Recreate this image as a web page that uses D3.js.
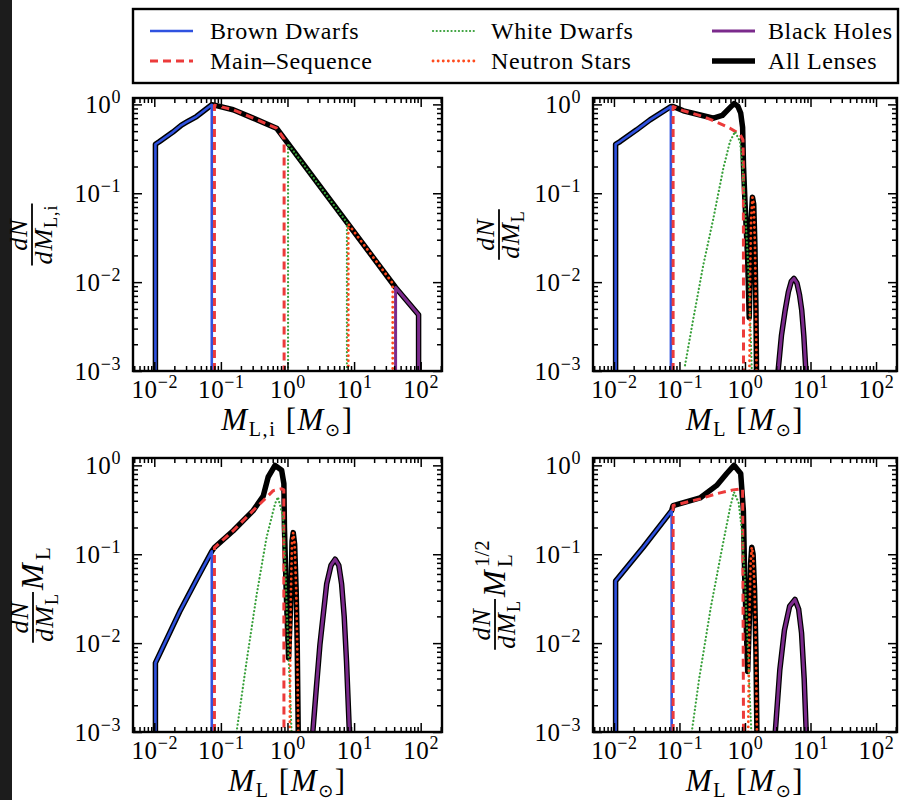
<!DOCTYPE html>
<html>
<head>
<meta charset="utf-8">
<script src="https://cdn.jsdelivr.net/npm/d3@7"></script>
<style>
  body { margin: 0; background: #fff; }
  svg text { font-family: "Liberation Serif", "DejaVu Serif", serif; fill: #000; }
</style>
</head>
<body>
<svg id="fig" width="901" height="800"></svg>
<script>
// ---- axis settings ----
const xDomain = [0.00479, 209];
const xMajor = [1e-2, 1e-1, 1e0, 1e1, 1e2];
const yMajor = [1e-3, 1e-2, 1e-1, 1e0];

// ---- panel 1: initial mass function dN/dM_L,i ----
const p1BrownDwarfs = [[0.0104,0.001],[0.0104,0.356],[0.012,0.382],[0.019,0.488],[0.0256,0.585],[0.0304,0.63],[0.043,0.73],[0.073,0.99],[0.073,0.001]];
const p1MainSequence = [[0.08,0.001],[0.08,0.98],[0.153,0.87],[0.305,0.70],[0.685,0.54],[0.89,0.41],[0.89,0.001]];
const p1WhiteDwarfs = [[1.02,0.001],[1.02,0.36],[7.8,0.047],[7.8,0.001]];
const p1NeutronStars = [[8.2,0.001],[8.2,0.045],[38,0.0097],[38,0.001]];
const p1BlackHoles = [[42,0.001],[42,0.0087],[93,0.0043],[93,0.001]];
const p1AllLenses = [[0.0104,0.001],[0.0104,0.356],[0.012,0.382],[0.019,0.488],[0.0256,0.585],[0.0304,0.63],[0.043,0.73],[0.073,0.99],[0.08,0.98],[0.153,0.87],[0.305,0.70],[0.685,0.54],[42,0.0087],[93,0.0043],[93,0.001]];

// ---- panel 2: present-day lens masses dN/dM_L ----
const p2BrownDwarfs = [[0.0106,0.001],[0.0106,0.356],[0.0124,0.382],[0.0222,0.517],[0.0355,0.67],[0.074,0.946],[0.074,0.001]];
const p2MainSequence = [[0.08,0.001],[0.08,0.946],[0.115,0.847],[0.231,0.73],[0.371,0.63],[0.59,0.54],[0.84,0.46],[0.93,0.40],[0.945,0.2],[0.95,0.001]];
const p2WhiteDwarfs = [[0.1216,0.00116],[0.163,0.0039],[0.231,0.0156],[0.329,0.052],[0.467,0.191],[0.59,0.382],[0.705,0.494],[0.84,0.382],[0.92,0.191],[0.99,0.0804],[1.125,0.0143],[1.2,0.004],[1.27,0.001]];
const p2NeutronStars = [[1.17,0.001],[1.2,0.012],[1.24,0.05],[1.3,0.09],[1.36,0.075],[1.42,0.025],[1.47,0.005],[1.5,0.001]];
const p2BlackHoles = [[3.2,0.001],[3.6,0.0025],[4.1,0.0048],[4.6,0.0078],[5.1,0.0102],[5.6,0.011],[6.2,0.0098],[6.8,0.0072],[7.35,0.0048],[7.9,0.0025],[8.5,0.001]];
const p2AllLenses = [[0.0106,0.001],[0.0106,0.356],[0.0124,0.382],[0.0222,0.517],[0.0355,0.67],[0.074,0.946],[0.08,0.946],[0.115,0.847],[0.231,0.745],[0.33,0.70],[0.45,0.75],[0.59,0.92],[0.68,1.02],[0.78,0.95],[0.86,0.80],[0.92,0.55],[0.95,0.2],[1.0,0.08],[1.1,0.018],[1.16,0.004],[1.2,0.012],[1.24,0.05],[1.3,0.09],[1.36,0.075],[1.42,0.025],[1.47,0.005],[1.5,0.001],[2,0],
  [3.2,0.001],[3.6,0.0025],[4.1,0.0048],[4.6,0.0078],[5.1,0.0102],[5.6,0.011],[6.2,0.0098],[6.8,0.0072],[7.35,0.0048],[7.9,0.0025],[8.5,0.001]];

// ---- panel 3: dN/dM_L x M_L ----
const p3BrownDwarfs = [[0.0104,0.001],[0.0104,0.006],[0.024,0.0225],[0.045,0.055],[0.073,0.108],[0.073,0.001]];
const p3MainSequence = [[0.08,0.001],[0.08,0.119],[0.153,0.184],[0.305,0.31],[0.432,0.40],[0.61,0.52],[0.817,0.546],[0.88,0.53],[0.885,0.001]];
const p3WhiteDwarfs = [[0.172,0.001],[0.243,0.0062],[0.344,0.035],[0.485,0.155],[0.65,0.37],[0.72,0.44],[0.86,0.26],[0.94,0.055],[1.02,0.0096],[1.1,0.0025],[1.15,0.001]];
const p3NeutronStars = [[1.08,0.001],[1.12,0.03],[1.17,0.14],[1.22,0.175],[1.28,0.13],[1.35,0.04],[1.4,0.0096],[1.45,0.001]];
const p3BlackHoles = [[2.4,0.001],[2.7,0.003],[3.07,0.0096],[3.87,0.046],[4.5,0.075],[5.2,0.088],[5.9,0.075],[6.5,0.046],[7.1,0.02],[7.7,0.0062],[8.5,0.001]];
const p3AllLenses = [[0.0104,0.001],[0.0104,0.006],[0.024,0.0225],[0.045,0.055],[0.073,0.108],[0.08,0.119],[0.153,0.184],[0.305,0.31],[0.432,0.45],[0.513,0.74],[0.65,1.0],[0.817,0.88],[0.883,0.62],[0.9,0.2],[0.96,0.035],[1.04,0.0068],[1.12,0.03],[1.17,0.14],[1.22,0.175],[1.28,0.13],[1.35,0.04],[1.4,0.0096],[1.45,0.001],[2,0],
  [2.4,0.001],[2.7,0.003],[3.07,0.0096],[3.87,0.046],[4.5,0.075],[5.2,0.088],[5.9,0.075],[6.5,0.046],[7.1,0.02],[7.7,0.0062],[8.5,0.001]];

// ---- panel 4: dN/dM_L x M_L^(1/2) ----
const p4BrownDwarfs = [[0.0106,0.001],[0.0106,0.05],[0.028,0.12],[0.076,0.31],[0.076,0.001]];
const p4MainSequence = [[0.08,0.001],[0.08,0.353],[0.206,0.42],[0.37,0.48],[0.66,0.53],[0.92,0.546],[0.95,0.001]];
const p4WhiteDwarfs = [[0.154,0.001],[0.2,0.004],[0.3,0.025],[0.45,0.12],[0.6,0.35],[0.68,0.5],[0.8,0.38],[0.9,0.18],[1.0,0.05],[1.1,0.01],[1.2,0.002],[1.25,0.001]];
const p4NeutronStars = [[1.12,0.001],[1.17,0.02],[1.22,0.08],[1.27,0.12],[1.33,0.1],[1.4,0.04],[1.47,0.008],[1.52,0.001]];
const p4BlackHoles = [[2.9,0.001],[3.4,0.005],[4.0,0.014],[4.8,0.026],[5.8,0.031],[6.6,0.024],[7.3,0.013],[8.0,0.004],[8.6,0.001]];
const p4AllLenses = [[0.0106,0.001],[0.0106,0.05],[0.028,0.12],[0.076,0.31],[0.08,0.353],[0.206,0.43],[0.37,0.595],[0.526,0.81],[0.68,1.0],[0.86,0.81],[0.945,0.31],[0.99,0.055],[1.1,0.0048],[1.17,0.02],[1.22,0.08],[1.27,0.12],[1.33,0.1],[1.4,0.04],[1.47,0.008],[1.52,0.001],[2,0],
  [2.9,0.001],[3.4,0.005],[4.0,0.014],[4.8,0.026],[5.8,0.031],[6.6,0.024],[7.3,0.013],[8.0,0.004],[8.6,0.001]];

// ---- legend labels ----
const legendLabels = ["Brown Dwarfs", "Main\u2013Sequence", "White Dwarfs", "Neutron Stars", "Black Holes", "All Lenses"];

// ---- line styles per population ----
const styles = {
  all: { stroke: "#000", width: 5.5, dash: null, cap: "butt" },
  bd:  { stroke: "#2f52e0", width: 2.6, dash: null, cap: "butt" },
  ms:  { stroke: "#ec3b3b", width: 3, dash: "8,5", cap: "butt" },
  wd:  { stroke: "#38a03a", width: 2.2, dash: "0.1,3.6", cap: "round" },
  ns:  { stroke: "#ff4a1c", width: 2.8, dash: "0.1,5", cap: "round" },
  bh:  { stroke: "#7b2a8c", width: 3, dash: null, cap: "butt" }
};
const legendKeys = ["bd", "ms", "wd", "ns", "bh", "all"];

const svg = d3.select("#fig");
svg.append("rect").attr("width", 901).attr("height", 800).attr("fill", "#fff");
svg.append("rect").attr("x", 0).attr("y", 0).attr("width", 12).attr("height", 800).attr("fill", "#1c1c1c");

function minorTicks(lo, hi) {
  const out = [];
  for (let k = -4; k <= 3; k++) for (let j = 2; j <= 9; j++) {
    const v = j * Math.pow(10, k);
    if (v > lo && v < hi) out.push(v);
  }
  return out;
}

function powerLabel(sel) {
  sel.each(function (d) {
    const e = Math.round(Math.log10(d));
    const t = d3.select(this);
    t.text(null).attr("letter-spacing", 0.6);
    t.append("tspan").text("10");
    t.append("tspan").attr("dy", -10).attr("font-size", 18).text(e < 0 ? "\u2212" + (-e) : String(e));
  });
}

// rich text helper: parts are [text, {italic, size, dy, family}]
function rich(textSel, parts) {
  parts.forEach(([t, o]) => {
    const sp = textSel.append("tspan").text(t);
    if (o && o.italic) sp.attr("font-style", "italic");
    if (o && o.size) sp.attr("font-size", o.size);
    if (o && o.dy) sp.attr("dy", o.dy);
    if (o && o.family) sp.attr("font-family", o.family);
  });
  return textSel;
}

function drawPanel(spec) {
  const x = d3.scaleLog().domain(xDomain).range([spec.left, spec.right]);
  const y = d3.scaleLog().domain(spec.yDomain).range([spec.bottom, spec.top]);
  const clipId = "clip-" + spec.id;
  svg.append("clipPath").attr("id", clipId).append("rect")
    .attr("x", spec.left).attr("y", spec.top)
    .attr("width", spec.right - spec.left).attr("height", spec.bottom - spec.top);

  const line = d3.line().defined(d => d[1] > 0).x(d => x(d[0])).y(d => y(d[1]));
  const g = svg.append("g").attr("clip-path", `url(#${clipId})`);
  spec.series.forEach(([key, data]) => {
    const s = styles[key];
    g.append("path").datum(data).attr("d", line)
      .attr("fill", "none").attr("stroke", s.stroke).attr("stroke-width", s.width)
      .attr("stroke-dasharray", s.dash).attr("stroke-linecap", s.cap)
      .attr("stroke-linejoin", "round");
  });

  const xMinor = minorTicks(xDomain[0], xDomain[1]);
  const yMinor = minorTicks(spec.yDomain[0], spec.yDomain[1]);
  const axes = svg.append("g");
  const style = sel => {
    sel.select(".domain").remove();
    sel.selectAll(".tick line").attr("stroke", "#000").attr("stroke-width", 1.5);
    sel.attr("font-family", null).attr("font-size", 25);
  };
  const M = 9, m = 5;
  // bottom
  axes.append("g").attr("transform", `translate(0,${spec.bottom})`)
    .call(d3.axisBottom(x).tickValues(xMajor).tickSize(-M).tickPadding(9))
    .call(style).call(s => s.selectAll(".tick text").call(powerLabel));
  axes.append("g").attr("transform", `translate(0,${spec.bottom})`)
    .call(d3.axisBottom(x).tickValues(xMinor).tickSize(-m).tickFormat("")).call(style);
  // top
  axes.append("g").attr("transform", `translate(0,${spec.top})`)
    .call(d3.axisTop(x).tickValues(xMajor).tickSize(-M).tickFormat("")).call(style);
  axes.append("g").attr("transform", `translate(0,${spec.top})`)
    .call(d3.axisTop(x).tickValues(xMinor).tickSize(-m).tickFormat("")).call(style);
  // left
  axes.append("g").attr("transform", `translate(${spec.left},0)`)
    .call(d3.axisLeft(y).tickValues(yMajor).tickSize(-M).tickPadding(12))
    .call(style).call(s => s.selectAll(".tick text").call(powerLabel));
  axes.append("g").attr("transform", `translate(${spec.left},0)`)
    .call(d3.axisLeft(y).tickValues(yMinor).tickSize(-m).tickFormat("")).call(style);
  // right
  axes.append("g").attr("transform", `translate(${spec.right},0)`)
    .call(d3.axisRight(y).tickValues(yMajor).tickSize(-M).tickFormat("")).call(style);
  axes.append("g").attr("transform", `translate(${spec.right},0)`)
    .call(d3.axisRight(y).tickValues(yMinor).tickSize(-m).tickFormat("")).call(style);

  svg.append("rect").attr("x", spec.left).attr("y", spec.top)
    .attr("width", spec.right - spec.left).attr("height", spec.bottom - spec.top)
    .attr("fill", "none").attr("stroke", "#000").attr("stroke-width", 2.4);

  // x label: M_L [M_sun]
  const cx = (spec.left + spec.right) / 2;
  const xl = svg.append("text").attr("x", cx).attr("y", spec.bottom + 59)
    .attr("text-anchor", "middle").attr("font-size", 31).attr("letter-spacing", 1.6);
  rich(xl, [["M", { italic: true }], [spec.xSub, { size: 20, dy: 6 }], [" [", { dy: -6 }],
            ["M", { italic: true }], ["\u2299", { size: 18, dy: 6, family: "DejaVu Sans" }], ["]", { dy: -6 }]]);

  // y label: rotated fraction dN/dM_L with optional trailing factor
  const cy = (spec.top + spec.bottom) / 2;
  const yl = svg.append("g");
  const frac = yl.append("g");
  const num = frac.append("text").attr("text-anchor", "middle").attr("y", -5)
    .attr("font-size", 26).attr("letter-spacing", 1);
  rich(num, [["dN", { italic: true }]]);
  const den = frac.append("text").attr("text-anchor", "middle").attr("y", 20)
    .attr("font-size", 26).attr("letter-spacing", 1);
  rich(den, [["dM", { italic: true }], [spec.xSub, { size: 18, dy: 5 }]]);
  const fw = Math.max(num.node().getBBox().width, den.node().getBBox().width) + 2;
  frac.append("line").attr("x1", -fw / 2).attr("x2", fw / 2).attr("y1", 0).attr("y2", 0)
    .attr("stroke", "#000").attr("stroke-width", 1.8);
  if (spec.factor) {
    const fx = yl.append("text").attr("x", fw / 2 + 2).attr("y", 10).attr("font-size", 32).attr("letter-spacing", 1);
    rich(fx, [["M", { italic: true }]]);
    const mw = fx.node().getBBox().width;
    if (spec.factor === "half") {
      yl.append("text").attr("x", fw / 2 + 2 + mw).attr("y", -6).attr("font-size", 21).text("1/2");
      yl.append("text").attr("x", fw / 2 + 2 + mw).attr("y", 17).attr("font-size", 21).text("L");
    } else {
      yl.append("text").attr("x", fw / 2 + 2 + mw).attr("y", 17).attr("font-size", 21).text("L");
    }
  }
  const bb = yl.node().getBBox();
  const inner = yl.attr("transform", `translate(${-(bb.x + bb.width / 2)},0)`);
  const outer = svg.append("g").attr("transform", `translate(${spec.yLabelX},${cy}) rotate(-90)`);
  outer.node().appendChild(inner.node());
}

const panels = [
  { id: 1, left: 133, right: 442, top: 98, bottom: 371, yDomain: [1e-3, 1.18], xSub: "L,i", yLabelX: 32,
    series: [["all", p1AllLenses], ["bd", p1BrownDwarfs], ["ms", p1MainSequence], ["wd", p1WhiteDwarfs], ["ns", p1NeutronStars], ["bh", p1BlackHoles]] },
  { id: 2, left: 593, right: 897, top: 98, bottom: 371, yDomain: [1e-3, 1.18], xSub: "L", yLabelX: 499,
    series: [["all", p2AllLenses], ["bd", p2BrownDwarfs], ["ms", p2MainSequence], ["wd", p2WhiteDwarfs], ["ns", p2NeutronStars], ["bh", p2BlackHoles]] },
  { id: 3, left: 133, right: 442, top: 458, bottom: 732, yDomain: [1e-3, 1.21], xSub: "L", yLabelX: 33, factor: "one",
    series: [["all", p3AllLenses], ["bd", p3BrownDwarfs], ["ms", p3MainSequence], ["wd", p3WhiteDwarfs], ["ns", p3NeutronStars], ["bh", p3BlackHoles]] },
  { id: 4, left: 593, right: 897, top: 458, bottom: 732, yDomain: [1e-3, 1.21], xSub: "L", yLabelX: 495, factor: "half",
    series: [["all", p4AllLenses], ["bd", p4BrownDwarfs], ["ms", p4MainSequence], ["wd", p4WhiteDwarfs], ["ns", p4NeutronStars], ["bh", p4BlackHoles]] }
];
panels.forEach(drawPanel);

// ---- legend ----
const leg = svg.append("g");
leg.append("rect").attr("x", 133).attr("y", 9).attr("width", 765).attr("height", 74)
  .attr("fill", "#fff").attr("stroke", "#000").attr("stroke-width", 2.4);
const colX = [150, 433, 712];
const textX = [210, 491, 768];
const rowY = [31, 61];
legendKeys.forEach((key, i) => {
  const col = Math.floor(i / 2), row = i % 2;
  const s = styles[key];
  const x0 = colX[col], yy = rowY[row];
  leg.append("line").attr("x1", x0).attr("x2", x0 + 43).attr("y1", yy).attr("y2", yy)
    .attr("stroke", s.stroke).attr("stroke-width", key === "all" ? 5.5 : s.width)
    .attr("stroke-dasharray", s.dash).attr("stroke-linecap", s.cap);
  leg.append("text").attr("x", textX[col]).attr("y", yy + 8).attr("font-size", 24)
    .attr("letter-spacing", 0.6).text(legendLabels[i]);
});
</script>
</body>
</html>
